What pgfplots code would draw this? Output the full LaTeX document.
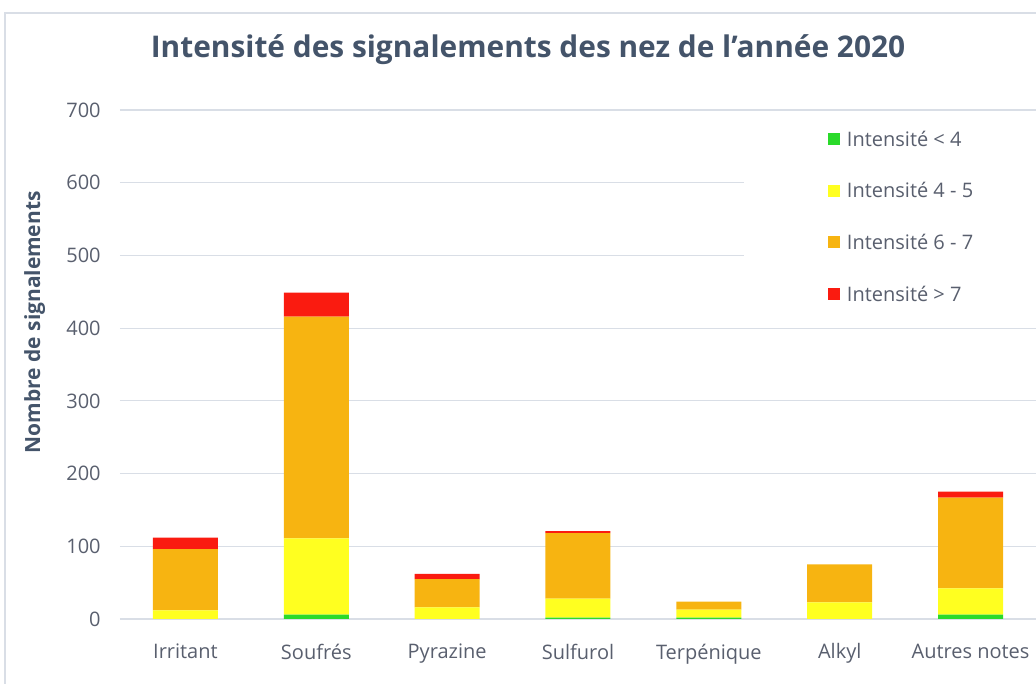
\documentclass[border=0pt]{standalone}
\usepackage{pgfplots}
\pgfplotsset{compat=1.18}
\usepackage{fontspec}
\setmainfont{Open Sans}
\definecolor{cgreen}{RGB}{42,218,42}
\definecolor{cyellow}{RGB}{255,255,32}
\definecolor{corange}{RGB}{247,180,17}
\definecolor{cred}{RGB}{250,27,16}
\definecolor{gridc}{RGB}{217,222,230}
\definecolor{ticktxt}{RGB}{89,95,110}
\definecolor{titletxt}{RGB}{68,84,106}
\begin{document}
\begin{tikzpicture}
\useasboundingbox (-90pt,-48.75pt) rectangle (687pt,464.25pt);
\draw[gridc, line width=0.8pt] (-86.25pt,-48.75pt) -- (-86.25pt,454.5pt) -- (687pt,454.5pt);
\node[font=\bfseries\fontsize{22.4}{26}\selectfont, text=titletxt] at (306pt,427pt)
  {Intensité des signalements des nez de l'année 2020};
\begin{axis}[
  at={(0,0)}, anchor=south west,
  scale only axis, width=687pt, height=381.75pt,
  ybar stacked, bar width=48.75pt,
  xmin=-0.5, xmax=6.5, ymin=0, ymax=700,
  xtick=data,
  xticklabels={Irritant,Soufrés,Pyrazine,Sulfurol,Terpénique,Alkyl,Autres notes},
  ytick={0,100,...,700},
  axis x line*=bottom, axis y line*=left,
  x axis line style={gridc, line width=0.8pt},
  y axis line style={draw=none},
  major tick length=0pt,
  ymajorgrids, grid style={gridc, line width=0.8pt},
  tick label style={font=\fontsize{15}{18}\selectfont, text=ticktxt},
  /pgf/number format/assume math mode=true,
  yticklabel style={xshift=-11pt},
  xticklabel style={yshift=-15pt},
  ylabel={\bfseries Nombre de signalements},
  ylabel style={font=\fontsize{15.7}{18}\selectfont, text=titletxt,
    at={(-0.093,0.583)}, anchor=center, rotate=0},
  legend style={at={(0.773,0.965)}, anchor=north west, draw=none, fill=none,
    font=\fontsize{15}{18}\selectfont, text=ticktxt, row sep=21.8pt,
    inner xsep=0pt, inner ysep=0pt, cells={anchor=west}},
  legend cell align=left,
  legend image code/.code={\fill[#1] (0pt,-4.2pt) rectangle (9pt,4.8pt); \path (12pt,0pt);},
  legend columns=1,
]
\fill[white] (axis cs:4.27,430) rectangle (axis cs:6.5,680);
\addplot[fill=cgreen, draw=none] coordinates {(0,0) (1,6) (2,0) (3,2) (4,2) (5,0) (6,6)};
\addlegendentry{Intensité < 4}
\addplot[fill=cyellow, draw=none] coordinates {(0,12) (1,105) (2,16) (3,26) (4,11) (5,23) (6,36)};
\addlegendentry{Intensité 4 - 5}
\addplot[fill=corange, draw=none] coordinates {(0,84) (1,305) (2,39) (3,90) (4,11) (5,52) (6,125)};
\addlegendentry{Intensité 6 - 7}
\addplot[fill=cred, draw=none] coordinates {(0,16) (1,33) (2,7) (3,3) (4,0) (5,0) (6,8)};
\addlegendentry{Intensité > 7}
\end{axis}
\end{tikzpicture}
\end{document}
